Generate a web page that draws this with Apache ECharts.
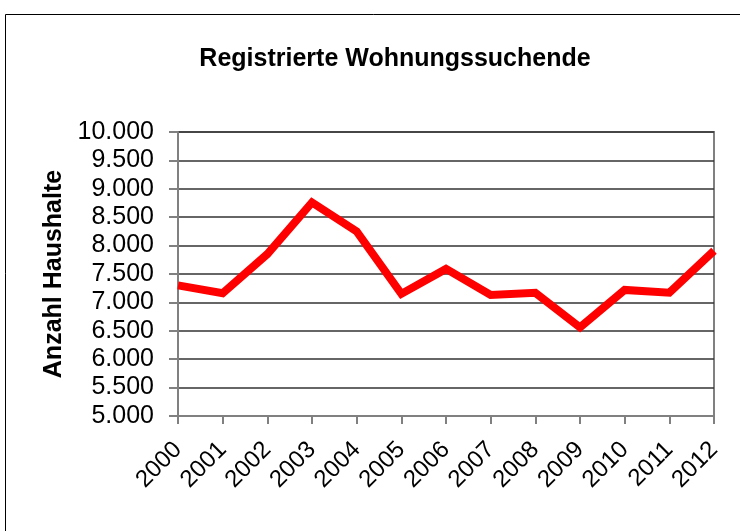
<!DOCTYPE html>
<html>
<head>
<meta charset="utf-8">
<script src="https://cdn.jsdelivr.net/npm/echarts@6/dist/echarts.min.js"></script>
<style>
  html, body { margin: 0; padding: 0; background: #fff; }
  #chart { width: 740px; height: 531px; }
</style>
</head>
<body>
<div id="chart"></div>
<script>
const years = ["2000", "2001", "2002", "2003", "2004", "2005", "2006",
  "2007", "2008", "2009", "2010", "2011", "2012"];
const households = [7300, 7160, 7850, 8760, 8250, 7150, 7590,
  7130, 7170, 6560, 7220, 7170, 7910];
const yMin = 5000;
const yMax = 10000;
const yStep = 500;

const font = "'Liberation Sans', Arial, sans-serif";

// thousands with a dot, like the German original
function fmt(v) {
  return String(v).replace(/\B(?=(\d{3})+(?!\d))/g, ".");
}

const chart = echarts.init(document.getElementById("chart"));
chart.setOption({
  backgroundColor: "#fff",
  animation: false,
  title: {
    text: "Registrierte Wohnungssuchende",
    left: 390,
    top: 42,
    textAlign: "center",
    textStyle: { fontFamily: font, fontSize: 25, fontWeight: "bold", color: "#000" }
  },
  graphic: [{
    type: "rect",
    shape: { x: 5.5, y: 14.5, width: 800, height: 600 },
    style: { fill: "none", stroke: "#000", lineWidth: 1 },
    silent: true
  }],
  grid: {
    left: 178, right: 26, top: 132, bottom: 115,
    show: true, borderColor: "#808080", borderWidth: 2,
    containLabel: false
  },
  xAxis: {
    type: "category",
    data: years,
    boundaryGap: false,
    axisLine: { lineStyle: { color: "#808080", width: 2 } },
    axisTick: { show: true, inside: false, length: 8, interval: 0,
      lineStyle: { color: "#808080", width: 2 } },
    axisLabel: { rotate: 45, interval: 0, margin: 30, fontFamily: font, fontSize: 24, color: "#000" },
    splitLine: { show: false }
  },
  yAxis: {
    type: "value",
    min: yMin, max: yMax, interval: yStep,
    name: "Anzahl Haushalte",
    nameLocation: "middle",
    nameGap: 104,
    nameRotate: 90,
    nameTextStyle: { fontFamily: font, fontSize: 25, fontWeight: "bold", color: "#000" },
    axisLine: { show: true, lineStyle: { color: "#808080", width: 2 } },
    axisTick: { show: true, inside: false, length: 9, lineStyle: { color: "#808080", width: 2 } },
    axisLabel: { margin: 24, fontFamily: font, fontSize: 25, color: "#000", formatter: fmt },
    splitLine: { show: true, lineStyle: { color: "#333", width: 1.5 } }
  },
  series: [{
    type: "line",
    data: households,
    symbol: "none",
    lineStyle: { color: "#ff0000", width: 8, join: "miter" },
    itemStyle: { color: "#ff0000" }
  }]
});
</script>
</body>
</html>
